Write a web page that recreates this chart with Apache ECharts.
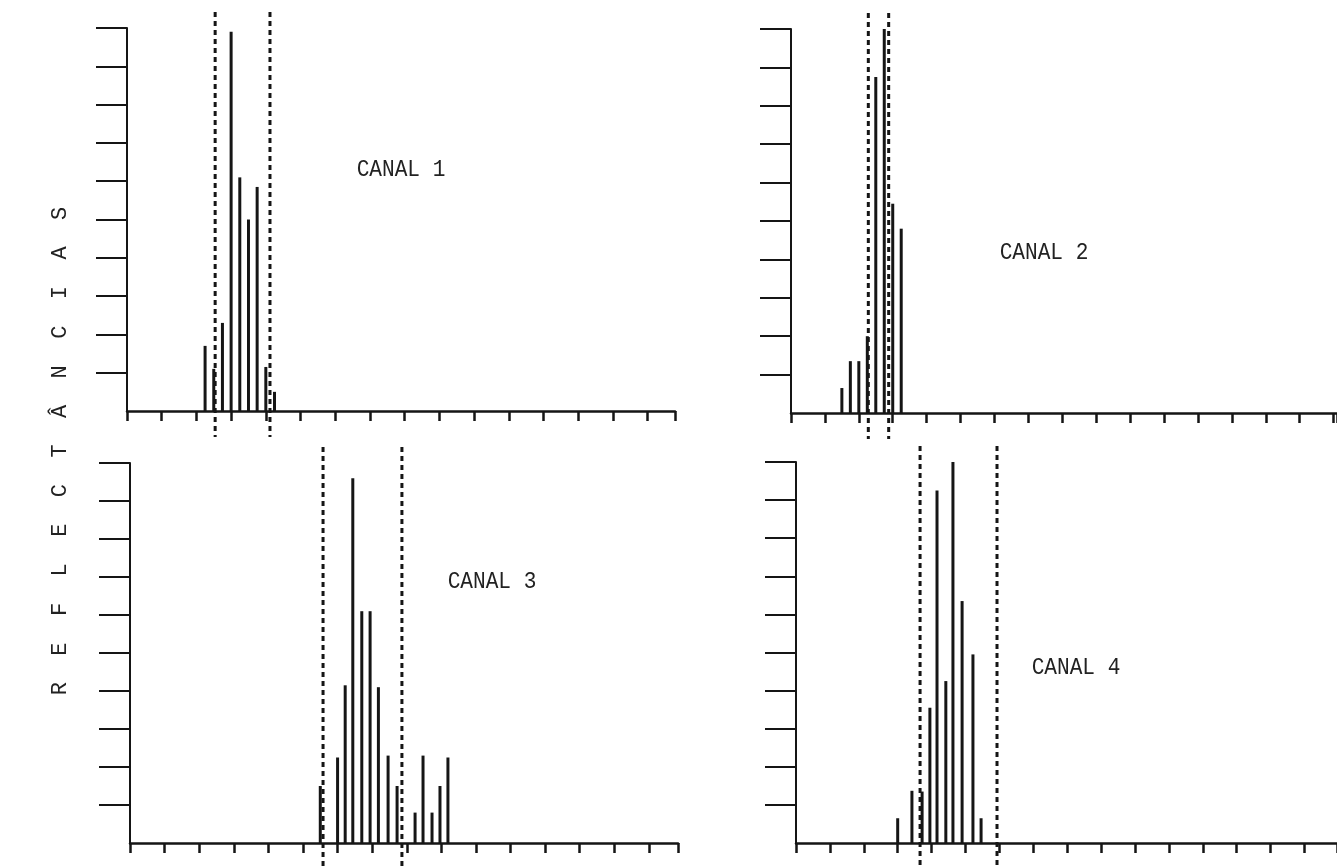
<!DOCTYPE html>
<html>
<head>
<meta charset="utf-8">
<title>Reflectancias por canal</title>
<script src="https://cdn.jsdelivr.net/npm/echarts@6/dist/echarts.min.js"></script>
<style>
  html, body { margin: 0; padding: 0; background: #fff; }
  #chart { width: 1337px; height: 868px; }
</style>
</head>
<body>
<div id="chart"></div>
<script>
// histogram bars, x and height both in tick units
var canal1X = [2.25, 2.5, 2.75, 3.0, 3.25, 3.5, 3.75, 4.0, 4.25];
var canal1Y = [1.7, 1.1, 2.3, 9.9, 6.1, 5.0, 5.85, 1.15, 0.5];
var canal2X = [1.5, 1.75, 2.0, 2.25, 2.5, 2.75, 3.0, 3.25];
var canal2Y = [0.65, 1.35, 1.35, 2.0, 8.75, 10.0, 5.45, 4.8];
var canal3X = [5.5, 6.0, 6.22, 6.44, 6.7, 6.94, 7.18, 7.46, 7.72, 8.24, 8.47, 8.73, 8.96, 9.19];
var canal3Y = [1.5, 2.25, 4.15, 9.6, 6.1, 6.1, 4.1, 2.3, 1.5, 0.8, 2.3, 0.8, 1.5, 2.25];
var canal4X = [3.0, 3.42, 3.72, 3.95, 4.16, 4.42, 4.63, 4.9, 5.22, 5.46];
var canal4Y = [0.65, 1.37, 1.35, 3.55, 9.25, 4.25, 10.0, 6.35, 4.95, 0.65];

// dashed class limits
var canal1Limits = [2.54, 4.12];
var canal2Limits = [2.28, 2.88];
var canal3Limits = [5.58, 7.86];
var canal4Limits = [3.66, 5.93];

// y ticks (no tick on the base line)
var yTicks = [1, 2, 3, 4, 5, 6, 7, 8, 9, 10];

var panelTitles = ['CANAL 1', 'CANAL 2', 'CANAL 3', 'CANAL 4'];
var axisTitle = 'REFLECTÂNCIAS';

// layout of the four panels (pixels)
var panels = [
  { left: 127, top: 28, width: 548, height: 383, offset: 34, xMax: 15.79, title: [401, 170] },
  { left: 791, top: 29, width: 546, height: 384, offset: 29, xMax: 16.1, title: [1044, 253] },
  { left: 130, top: 463, width: 548, height: 380, offset: 35, xMax: 15.84, title: [492, 582] },
  { left: 796, top: 462, width: 541, height: 381, offset: 31, xMax: 15.96, title: [1076, 668] }
];

var barsX = [canal1X, canal2X, canal3X, canal4X];
var barsY = [canal1Y, canal2Y, canal3Y, canal4Y];
var limits = [canal1Limits, canal2Limits, canal3Limits, canal4Limits];

var ink = '#151515';
var yMax = 10;

var grid = [], xAxis = [], yAxis = [], series = [], graphic = [];

for (var i = 0; i < panels.length; i++) {
  var p = panels[i];

  grid.push({
    left: p.left, top: p.top, width: p.width, height: p.height,
    outerBoundsMode: 'none'
  });

  xAxis.push({
    type: 'value', gridIndex: i, min: 0, max: p.xMax, interval: 1,
    axisLine: { show: true, lineStyle: { color: ink, width: 2.5 } },
    axisTick: { show: true, inside: false, length: 10, lineStyle: { color: ink, width: 2.5 } },
    axisLabel: { show: false },
    splitLine: { show: false }
  });

  yAxis.push({
    type: 'value', gridIndex: i, min: 0, max: yMax, interval: 1,
    offset: p.offset,
    axisLine: { show: true, lineStyle: { color: ink, width: 2 } },
    axisTick: {
      show: true, inside: false, length: 31,
      customValues: yTicks,
      lineStyle: { color: ink, width: 2 }
    },
    axisLabel: { show: false },
    splitLine: { show: false }
  });

  var data = [];
  for (var k = 0; k < barsX[i].length; k++) {
    data.push([barsX[i][k], barsY[i][k]]);
  }

  series.push({
    type: 'bar',
    xAxisIndex: i, yAxisIndex: i,
    barWidth: 3,
    itemStyle: { color: ink },
    silent: true,
    data: data
  });

  // dashed limit lines run a bit past the plot top and the axis
  series.push({
    type: 'custom',
    xAxisIndex: i, yAxisIndex: i,
    clip: false,
    silent: true,
    renderItem: function(params, api) {
      var top = api.coord([api.value(0), yMax]);
      var bot = api.coord([api.value(0), 0]);
      return {
        type: 'line',
        shape: { x1: top[0], y1: top[1] - 16, x2: bot[0], y2: bot[1] + 26 },
        style: { stroke: ink, lineWidth: 3, lineDash: [5, 4] }
      };
    },
    data: limits[i].map(function(v) { return [v]; })
  });

  graphic.push({
    type: 'text',
    x: p.title[0], y: p.title[1],
    scaleX: 0.88,
    style: {
      text: panelTitles[i],
      font: '24px "Liberation Mono"',
      fill: '#222',
      align: 'center', verticalAlign: 'middle',
      textAlign: 'center', textVerticalAlign: 'middle'
    }
  });
}

// vertical axis title, spaced letters
graphic.push({
  type: 'text',
  x: 60, y: 451,
  rotation: Math.PI / 2,
  style: {
    text: axisTitle.split('').join('  '),
    font: '22px "Liberation Mono"',
    fill: '#222',
    align: 'center', verticalAlign: 'middle',
    textAlign: 'center', textVerticalAlign: 'middle'
  }
});

var chart = echarts.init(document.getElementById('chart'));
chart.setOption({
  backgroundColor: '#fff',
  animation: false,
  grid: grid,
  xAxis: xAxis,
  yAxis: yAxis,
  series: series,
  graphic: graphic
});
</script>
</body>
</html>
